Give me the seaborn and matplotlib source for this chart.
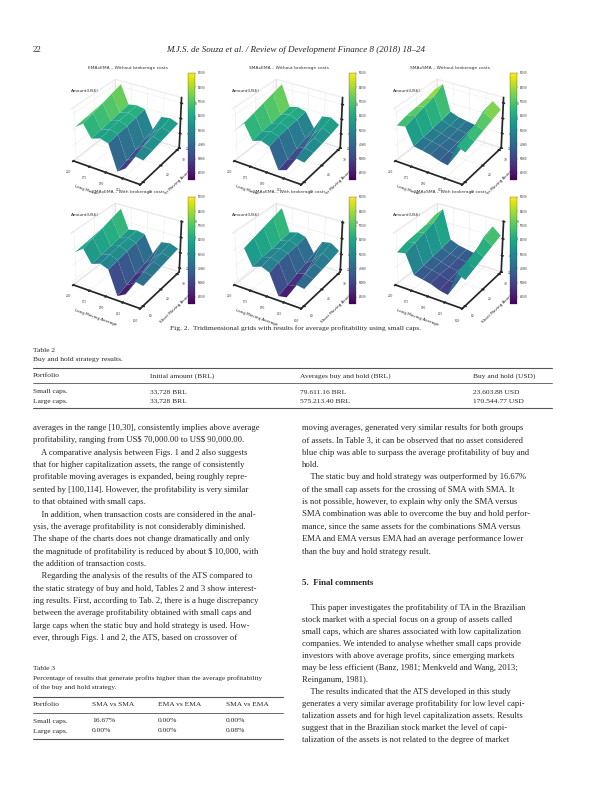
import numpy as np
import matplotlib
matplotlib.use("Agg")
import matplotlib.pyplot as plt
import seaborn as sns

sns.set_theme(style="white")
plt.rcParams['font.family'] = ['Liberation Serif', 'DejaVu Serif']
plt.rcParams['text.parse_math'] = False

# grid axes of the surfaces
long_ma = [100, 112, 125, 137, 150, 162, 175, 187, 200]
short_ma = [10, 15, 20, 25, 30]

# amounts (US$ thousands), rows = short MA
emaxema_no = [[48, 50, 30, 22, 55, 58, 54, 70, 62],
              [50, 52, 34, 26, 57, 60, 56, 74, 64],
              [52, 55, 40, 30, 58, 62, 58, 78, 66],
              [54, 57, 46, 34, 60, 63, 60, 82, 68],
              [56, 60, 58, 38, 62, 64, 62, 86, 70]]
smaxema_no = [[46, 48, 28, 24, 52, 56, 52, 72, 60],
              [48, 51, 32, 28, 55, 58, 55, 76, 62],
              [50, 54, 38, 32, 57, 60, 56, 80, 64],
              [52, 58, 46, 36, 58, 62, 58, 84, 66],
              [55, 62, 60, 40, 60, 63, 60, 88, 68]]
smaxsma_no = [[58, 62, 34, 36, 40, 42, 44, 66, 64],
              [62, 66, 38, 38, 42, 44, 46, 70, 68],
              [66, 70, 44, 40, 42, 45, 48, 74, 70],
              [70, 76, 52, 42, 44, 46, 50, 78, 72],
              [74, 82, 66, 44, 46, 48, 52, 86, 76]]
emaxema_wc = [[40, 42, 22, 16, 46, 50, 46, 62, 54],
              [42, 44, 26, 20, 48, 52, 48, 66, 56],
              [44, 47, 32, 24, 50, 54, 50, 70, 58],
              [46, 49, 38, 28, 52, 55, 52, 74, 60],
              [48, 52, 50, 32, 54, 56, 54, 78, 62]]
smaxema_wc = [[38, 40, 20, 18, 44, 48, 44, 64, 52],
              [40, 43, 24, 22, 47, 50, 47, 68, 54],
              [42, 46, 30, 26, 49, 52, 48, 72, 56],
              [44, 50, 38, 30, 50, 54, 50, 76, 58],
              [47, 54, 52, 34, 52, 55, 52, 80, 60]]
smaxsma_wc = [[50, 54, 26, 28, 32, 34, 36, 58, 56],
              [54, 58, 30, 30, 34, 36, 38, 62, 60],
              [58, 62, 36, 32, 34, 37, 40, 66, 62],
              [62, 68, 44, 34, 36, 38, 42, 70, 64],
              [66, 74, 58, 36, 38, 40, 44, 78, 68]]

titles = ["EMAxEMA \u2013 Without brokerage costs", "SMAxEMA \u2013 Without brokerage costs",
          "SMAxSMA \u2013 Without brokerage costs", "EMAxEMA \u2013 With brokerage costs",
          "SMAxEMA \u2013 With brokerage costs", "SMAxSMA \u2013 With brokerage costs"]
grids = [emaxema_no, smaxema_no, smaxsma_no, emaxema_wc, smaxema_wc, smaxsma_wc]

W, H = 596, 794
fig = plt.figure(figsize=(W / 100, H / 100), dpi=100)
cmap = sns.color_palette("viridis", as_cmap=True)


def px(x0, y0, w, h):
    return [x0 / W, 1 - (y0 + h) / H, w / W, h / H]


title_x = [128, 289, 450]
cbar_x = [188, 349, 510]
title_y = [68, 192]
for i, (title, g) in enumerate(zip(titles, grids)):
    r, c = divmod(i, 3)
    ax = fig.add_axes(px(title_x[c] - 70, title_y[r] + 2, 135, 122), projection='3d')
    X, Y = np.meshgrid(long_ma, short_ma)
    Z = np.array(g) * 1000.0
    ax.plot_surface(X, Y, Z, cmap=cmap, linewidth=0, antialiased=True,
                    vmin=15000, vmax=90000)
    ax.view_init(elev=30, azim=-58)
    ax.set_xlim(200, 100)
    ax.set_xticks([100, 125, 150, 175, 200])
    ax.set_yticks([10, 20, 30])
    ax.set_zticks([20000, 40000, 60000, 80000])
    ax.tick_params(labelsize=2.5, pad=-3)
    ax.set_xlabel("Long Moving Average", fontsize=3, labelpad=-10, family='DejaVu Sans')
    ax.set_ylabel("Short Moving Average", fontsize=3, labelpad=-10, family='DejaVu Sans')
    ax.set_zlabel("")
    ax.text2D(0.05, 0.82, "Amount(US$)", transform=ax.transAxes, fontsize=3,
              family='DejaVu Sans')
    for a in (ax.xaxis, ax.yaxis, ax.zaxis):
        a.pane.set_facecolor('white')
        a.pane.set_edgecolor('#dddddd')
        a._axinfo['grid']['color'] = '#e6e6e6'
        a._axinfo['grid']['linewidth'] = 0.3
    ax.set_facecolor('white')
    fig.text(title_x[c] / W, 1 - title_y[r] / H, title, fontsize=3.2, va='center',
             ha='center', family='DejaVu Sans', color='#333333')
    cax = fig.add_axes(px(cbar_x[c], title_y[r] + 5, 7, 107))
    sm = matplotlib.cm.ScalarMappable(norm=plt.Normalize(15000, 90000), cmap=cmap)
    cb = fig.colorbar(sm, cax=cax)
    cb.outline.set_linewidth(0.2)
    cb.ax.tick_params(labelsize=2.2, length=1, width=0.2, pad=1)


def t(x, y, s, size=6.2, **kw):
    fig.text(x / W, 1 - y / H, s, fontsize=size, va='center', **kw)


def rule(y, x0=33, x1=552, lw=0.8):
    fig.add_artist(plt.Line2D([x0 / W, x1 / W], [1 - y / H, 1 - y / H], color='#555555', lw=lw))


t(33, 50, "22", 6.5)
t(296, 50, "M.J.S. de Souza et al. / Review of Development Finance 8 (2018) 18\u201324", 6.5,
  ha='center', style='italic')
t(296, 328, "Fig. 2.  Tridimensional grids with results for average profitability using small caps.",
  5.4, ha='center')

# Table 2
tab2_cols = ["Portfolio", "Initial amount (BRL)", "Averages buy and hold (BRL)", "Buy and hold (USD)"]
tab2_rows = [["Small caps.", "33,728 BRL", "79.611.16 BRL", "23.603.88 USD"],
             ["Large caps.", "33,728 BRL", "575.213.40 BRL", "170.544.77 USD"]]
t2x = [33, 150, 300, 473]
t(33, 351, "Table 2", 5.4)
t(33, 360, "Buy and hold strategy results.", 5.4)
rule(368)
for x, s in zip(t2x, tab2_cols):
    t(x, 376, s, 5.4)
rule(383, lw=0.6)
for k, row in enumerate(tab2_rows):
    for x, s in zip(t2x, row):
        t(x, 392 + 9 * k, s, 5.4)
rule(408)

# Table 3
tab3_cols = ["Portfolio", "SMA vs SMA", "EMA vs EMA", "SMA vs EMA"]
tab3_rows = [["Small caps.", "16.67%", "0.00%", "0.00%"],
             ["Large caps.", "0.00%", "0.00%", "0.08%"]]
t3x = [33, 92, 158, 226]
t(33, 668, "Table 3", 5.4)
t(33, 678, "Percentage of results that generate profits higher than the average profitability", 5.2)
t(33, 687, "of the buy and hold strategy.", 5.2)
rule(697, 33, 283)
for x, s in zip(t3x, tab3_cols):
    t(x, 705, s, 5.4)
rule(713, 33, 283, lw=0.6)
for k, row in enumerate(tab3_rows):
    for x, s in zip(t3x, row):
        t(x, 721 + 10 * k, s, 5.4)
rule(739, 33, 283)

left_lines = [
    "averages in the range [10,30], consistently implies above average",
    "profitability, ranging from US$ 70,000.00 to US$ 90,000.00.",
    "    A comparative analysis between Figs. 1 and 2 also suggests",
    "that for higher capitalization assets, the range of consistently",
    "profitable moving averages is expanded, being roughly repre-",
    "sented by [100,114]. However, the profitability is very similar",
    "to that obtained with small caps.",
    "    In addition, when transaction costs are considered in the anal-",
    "ysis, the average profitability is not considerably diminished.",
    "The shape of the charts does not change dramatically and only",
    "the magnitude of profitability is reduced by about $ 10,000, with",
    "the addition of transaction costs.",
    "    Regarding the analysis of the results of the ATS compared to",
    "the static strategy of buy and hold, Tables 2 and 3 show interest-",
    "ing results. First, according to Tab. 2, there is a huge discrepancy",
    "between the average profitability obtained with small caps and",
    "large caps when the static buy and hold strategy is used. How-",
    "ever, through Figs. 1 and 2, the ATS, based on crossover of",
]
right_top = [
    "moving averages, generated very similar results for both groups",
    "of assets. In Table 3, it can be observed that no asset considered",
    "blue chip was able to surpass the average profitability of buy and",
    "hold.",
    "    The static buy and hold strategy was outperformed by 16.67%",
    "of the small cap assets for the crossing of SMA with SMA. It",
    "is not possible, however, to explain why only the SMA versus",
    "SMA combination was able to overcome the buy and hold perfor-",
    "mance, since the same assets for the combinations SMA versus",
    "EMA and EMA versus EMA had an average performance lower",
    "than the buy and hold strategy result.",
]
right_bottom = [
    "    This paper investigates the profitability of TA in the Brazilian",
    "stock market with a special focus on a group of assets called",
    "small caps, which are shares associated with low capitalization",
    "companies. We intended to analyse whether small caps provide",
    "investors with above average profits, since emerging markets",
    "may be less efficient (Banz, 1981; Menkveld and Wang, 2013;",
    "Reinganum, 1981).",
    "    The results indicated that the ATS developed in this study",
    "generates a very similar average profitability for low level capi-",
    "talization assets and for high level capitalization assets. Results",
    "suggest that in the Brazilian stock market the level of capi-",
    "talization of the assets is not related to the degree of market",
]
for k, s in enumerate(left_lines):
    t(33, 428 + 12.35 * k, s)
for k, s in enumerate(right_top):
    t(302, 428 + 12.35 * k, s)
t(302, 583, "5.  Final comments", 6.4, weight='bold')
for k, s in enumerate(right_bottom):
    t(302, 608 + 12.0 * k, s)

fig.savefig("out.png", dpi=100, facecolor='white')
